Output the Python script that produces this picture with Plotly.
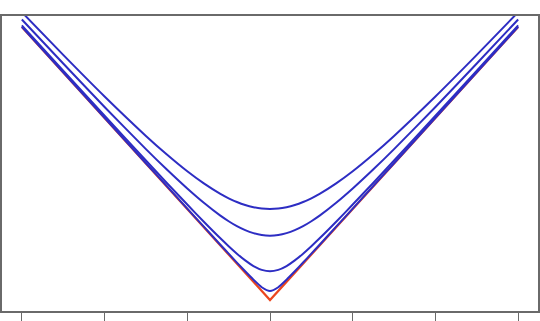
import plotly.graph_objects as go

x_pts = [-3, -2.5, -2, -1.5, -1.25, -1, -0.8, -0.6, -0.5, -0.4, -0.3, -0.2, -0.1, 0,
         0.1, 0.2, 0.3, 0.4, 0.5, 0.6, 0.8, 1, 1.25, 1.5, 2, 2.5, 3]

half_1 = [3.162, 2.693, 2.236, 1.803, 1.601, 1.414, 1.281, 1.166, 1.118, 1.077, 1.044, 1.020, 1.005, 1.0]
half_05 = [3.082, 2.598, 2.121, 1.658, 1.436, 1.225, 1.068, 0.927, 0.866, 0.812, 0.768, 0.735, 0.714, 0.707]
half_01 = [3.017, 2.520, 2.025, 1.533, 1.289, 1.049, 0.860, 0.678, 0.592, 0.510, 0.436, 0.374, 0.332, 0.316]
half_001 = [3.002, 2.502, 2.002, 1.503, 1.254, 1.005, 0.806, 0.608, 0.510, 0.412, 0.316, 0.224, 0.141, 0.100]

y_e1 = half_1 + half_1[-2::-1]
y_e05 = half_05 + half_05[-2::-1]
y_e01 = half_01 + half_01[-2::-1]
y_e001 = half_001 + half_001[-2::-1]

abs_x = [-3, 0, 3]
abs_y = [3, 0, 3]

x_ticks = [-3, -2, -1, 0, 1, 2, 3]
y_ticks = [0, 0.5, 1, 1.5, 2, 2.5, 3]

fig = go.Figure()
fig.add_trace(go.Scatter(x=abs_x, y=abs_y, mode="lines",
                         line=dict(color="rgb(235,70,30)", width=2.2)))
blue = "rgb(45,45,195)"
for ys in [y_e001, y_e01, y_e05, y_e1]:
    fig.add_trace(go.Scatter(x=x_pts, y=ys, mode="lines",
                             line=dict(color=blue, width=2, shape="spline", smoothing=0.6)))

axis_common = dict(showgrid=False, zeroline=False, showline=True, mirror=True,
                   linecolor="#6a6a6a", linewidth=1.5, ticks="outside", ticklen=12,
                   tickcolor="#6a6a6a", tickwidth=1.2, showticklabels=False,
                   automargin=False)
fig.update_layout(
    width=540, height=321,
    margin=dict(l=2, r=2, t=16, b=10, autoexpand=False),
    paper_bgcolor="white", plot_bgcolor="white",
    showlegend=False,
    xaxis=dict(range=[-3.24, 3.24], tickvals=x_ticks, **axis_common),
    yaxis=dict(range=[-0.12, 3.12], tickvals=y_ticks, **axis_common),
)
fig.write_html("out.html")
